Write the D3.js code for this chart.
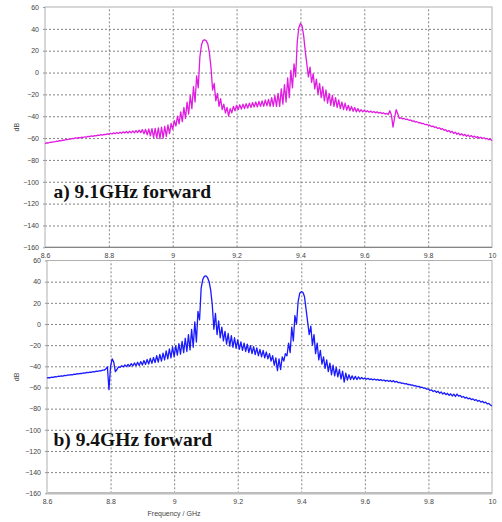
<!DOCTYPE html>
<html>
<head>
<meta charset="utf-8">
<script src="https://cdn.jsdelivr.net/npm/d3@7"></script>
<style>
  body { margin: 0; background: #fff; }
  svg { display: block; }
  .tick text { font-family: "Liberation Sans", Arial, sans-serif; font-size: 7px; fill: #444; }
  .grid line { stroke: #828282; stroke-dasharray: 2,2; }
  .grid path { display: none; }
</style>
</head>
<body>
<div id="chart"></div>
<script>
// sweep grid of the simulated S21 trace (GHz)
var sweepStart = 8.6,
    sweepStep = 0.005;

var freqTicks = [8.6, 8.8, 9, 9.2, 9.4, 9.6, 9.8, 10];
var dbTicks = [60, 40, 20, 0, -20, -40, -60, -80, -100, -120, -140, -160];

// a) 9.1GHz forward, dB, one row per 0.1 GHz
var forward91 = [
  -65.0, -64.5, -64.5, -63.9, -64.0, -63.4, -63.5, -62.9, -63.0, -62.4, -62.5, -61.9, -62.0, -61.4, -61.5, -60.9, -61.0, -60.4, -60.5, -59.9, -60.0,
  -59.5, -59.9, -59.2, -59.5, -58.8, -59.1, -58.5, -58.7, -58.0, -58.4, -57.7, -58.0, -57.3, -57.6, -56.9, -57.3, -56.6, -56.9, -56.2, -56.5,
  -55.6, -56.3, -55.2, -56.0, -54.9, -55.8, -54.6, -55.6, -54.3, -55.4, -54.0, -55.3, -53.7, -55.2, -53.4, -55.2, -53.1, -55.0, -52.8, -55.0,
  -52.3, -56.0, -52.0, -57.0, -51.7, -58.0, -51.4, -59.5, -51.1, -60.0, -50.6, -60.5, -50.0, -60.0, -49.2, -58.5, -48.0, -56.0, -46.5, -52.0,
  -44, -49, -40, -47, -36, -45, -32, -42, -27, -38, -21, -33, -13, -27, -3, -14, 14, 25, 29.5, 30,
  29, 26, 18, 4, -16, -10, -26, -19, -31, -24, -34, -29, -37, -32, -40, -33, -37, -31, -35, -30,
  -34, -29.5, -33.5, -29, -33, -28.5, -32.5, -28, -32, -27.5, -31.5, -27, -31.5, -26.5, -31, -26, -31, -25, -30.5, -24.5,
  -31, -23, -31, -21, -31, -19, -31, -15, -29, -11, -27, -5, -23, 2, -14, 8, -4, 28, 41, 45,
  43, 34, 20, 8, -4, 5, -9, -1, -15, -6, -20, -10, -23, -13, -26, -16, -28, -19, -30, -21,
  -31, -23, -32, -25, -33, -27, -34, -28, -34.5, -30, -35, -31, -35.5, -32, -36, -33, -36, -34, -36, -34.5,
  -36, -35, -36.3, -35.3, -36.6, -35.6, -36.9, -36, -37.2, -36.4, -37.6, -36.9, -38, -37.4, -38.5, -35, -39, -50, -41, -34,
  -38, -42, -41.5, -42.5, -42, -43, -42.7, -43.7, -43.4, -44.5, -44.2, -45.3, -45, -46, -45.8, -46.8, -46.6, -47.6, -47.4, -48.3,
  -48.2, -49.5, -49, -50.3, -49.8, -51.2, -50.6, -52, -51.4, -53, -52.2, -54, -53, -55, -53.8, -55.8, -54.6, -56.5, -55.4, -57.2,
  -56, -57.8, -56.6, -58.3, -57.2, -58.8, -57.7, -59.2, -58.2, -59.6, -58.7, -60, -59.2, -60.4, -59.7, -60.8, -60.3, -61.5, -61, -62.5
];

// b) 9.4GHz forward, dB
var forward94 = [
  -51.0, -50.6, -50.8, -50.2, -50.4, -49.8, -50.0, -49.4, -49.6, -49.0, -49.2, -48.6, -48.8, -48.2, -48.4, -47.8, -48.0, -47.4, -47.6, -47.0, -47.2,
  -46.6, -46.8, -46.2, -46.4, -45.8, -46.0, -45.4, -45.6, -45.0, -45.2, -44.6, -44.8, -44.2, -44.4, -43.6, -43.6, -42.5, -40.5, -62, -40,
  -33, -36, -45, -43, -40.5, -41, -39.5, -40.5, -38.8, -40.3, -38.2, -40, -37.5, -39.7, -36.8, -39.5, -36.2, -39.2, -35.5, -38.8,
  -34.5, -38.2, -33.5, -37.8, -32.5, -37.2, -31.5, -36.5, -30, -36, -28.8, -35, -27.5, -34, -25.5, -33, -23.5, -32, -21.5, -31,
  -20.5, -29.5, -18.5, -28.5, -16.5, -27, -13.5, -26, -10, -24.5, -5, -22, 2, -17, 12, 4, 34, 42, 45, 45.5,
  44, 40, 32, 18, -5, 10, -10, 3, -13, -3, -16, -7, -19, -9, -21, -11, -22, -13, -23, -15,
  -24, -17, -25, -18, -26, -19, -27, -20.5, -28, -21.5, -29, -22.5, -30, -24, -31, -25, -32, -26.5, -33, -28,
  -35, -30, -39, -32, -44, -33, -43, -31, -35, -28, -30, -18, -27, -3, -16, 8, 0, 21, 29, 30.5,
  30, 26, 14, 2, -10, -2, -20, -10, -28, -18, -34, -25, -38, -31, -42, -34, -45, -37, -48, -39,
  -49, -41, -50, -43, -52, -44.5, -55, -46.5, -53, -48, -52.5, -49, -52.5, -49.5, -52.5, -50, -52, -50.5, -52, -51,
  -52.2, -51.4, -52.5, -51.8, -52.8, -52.0, -53.0, -52.3, -53.3, -52.6, -53.6, -52.9, -54.0, -53.2, -54.3, -53.4, -54.6, -53.5, -55.0, -54.2,
  -55.5, -55.2, -56.0, -55.8, -56.6, -56.4, -57.2, -57.0, -57.8, -57.6, -58.5, -58.3, -59.2, -59.0, -59.9, -59.8, -60.7, -60.6, -61.5, -61.5,
  -62.8, -62.3, -63.8, -63.0, -64.6, -63.6, -65.4, -64.2, -66.2, -65.0, -66.8, -65.5, -67.5, -66.0, -68, -66.3, -68.5, -66.2, -68.2, -67.5,
  -69.2, -68.5, -70, -69.2, -70.8, -70, -71.5, -70.8, -72.2, -71.5, -73, -72.2, -73.8, -73, -74.5, -73.8, -75.5, -75, -76.5, -77.5
];

var panels = [
  {values: forward91, label: "a) 9.1GHz forward", color: "#e01ce0",
   left: 45, right: 492, top: 7, bottom: 247.3, textY: 197.5, xlabel: false},
  {values: forward94, label: "b) 9.4GHz forward", color: "#1a1aff",
   left: 47, right: 492, top: 260.5, bottom: 493.3, textY: 445.5, xlabel: true}
];

var svg = d3.select("#chart").append("svg")
    .attr("width", 502)
    .attr("height", 522)
    .style("background", "#fff");

panels.forEach(function(p, k) {
  var x = d3.scaleLinear().domain([8.6, 10]).range([p.left, p.right]);
  var y = d3.scaleLinear().domain([-160, 60]).range([p.bottom, p.top]);

  var data = p.values.map(function(v, i) {
    return {f: sweepStart + i * sweepStep, db: v};
  });

  var g = svg.append("g").attr("class", "panel" + k);

  // dotted grid
  g.append("g")
      .attr("class", "grid")
      .attr("transform", "translate(0," + p.bottom + ")")
      .call(d3.axisBottom(x).tickValues(freqTicks.slice(1, -1))
        .tickSize(-(p.bottom - p.top)).tickFormat(""));
  g.append("g")
      .attr("class", "grid")
      .attr("transform", "translate(" + p.left + ",0)")
      .call(d3.axisLeft(y).tickValues(dbTicks.slice(1, -1))
        .tickSize(-(p.right - p.left)).tickFormat(""));

  // frame
  g.append("rect")
      .attr("x", p.left).attr("y", p.top)
      .attr("width", p.right - p.left).attr("height", p.bottom - p.top)
      .style("fill", "none")
      .style("stroke", "#b0b0b0")
      .style("stroke-width", 1);
  g.append("line")
      .attr("x1", p.left).attr("x2", p.right)
      .attr("y1", p.bottom).attr("y2", p.bottom)
      .style("stroke", k == 0 ? "#777" : "#bdbdbd")
      .style("stroke-width", k == 0 ? 1 : 2.5);

  // axes (labels)
  var yAxis = g.append("g")
      .attr("transform", "translate(" + p.left + ",0)")
      .call(d3.axisLeft(y).tickValues(dbTicks).tickSize(2).tickPadding(4));
  yAxis.select(".domain").remove();
  yAxis.selectAll(".tick line").style("stroke", "#999");

  var xAxis = g.append("g")
      .attr("transform", "translate(0," + p.bottom + ")")
      .call(d3.axisBottom(x).tickValues(freqTicks).tickSize(0).tickPadding(6)
        .tickFormat(d3.format("")));
  xAxis.select(".domain").remove();

  g.append("text")
      .attr("transform", "translate(19," + ((p.top + p.bottom) / 2) + ") rotate(-90)")
      .style("text-anchor", "middle")
      .style("font-family", "'Liberation Sans', Arial, sans-serif")
      .style("font-size", "7px")
      .style("fill", "#444")
      .text("dB");

  // trace
  var line = d3.line()
      .x(function(d) { return x(d.f); })
      .y(function(d) { return y(d.db); });

  g.append("path")
      .datum(data)
      .attr("d", line)
      .style("fill", "none")
      .style("stroke", p.color)
      .style("stroke-width", "1.3px")
      .style("stroke-linejoin", "round");

  g.append("text")
      .attr("x", 53.5)
      .attr("y", p.textY)
      .style("font-family", "'Liberation Serif', 'Times New Roman', serif")
      .style("font-weight", "bold")
      .style("font-size", "19.5px")
      .style("fill", "#111")
      .text(p.label);

  if (p.xlabel) {
    g.append("text")
        .attr("x", 174)
        .attr("y", 516)
        .style("text-anchor", "middle")
        .style("font-family", "'Liberation Sans', Arial, sans-serif")
        .style("font-size", "7px")
        .style("fill", "#444")
        .text("Frequency / GHz");
  }
});
</script>
</body>
</html>
